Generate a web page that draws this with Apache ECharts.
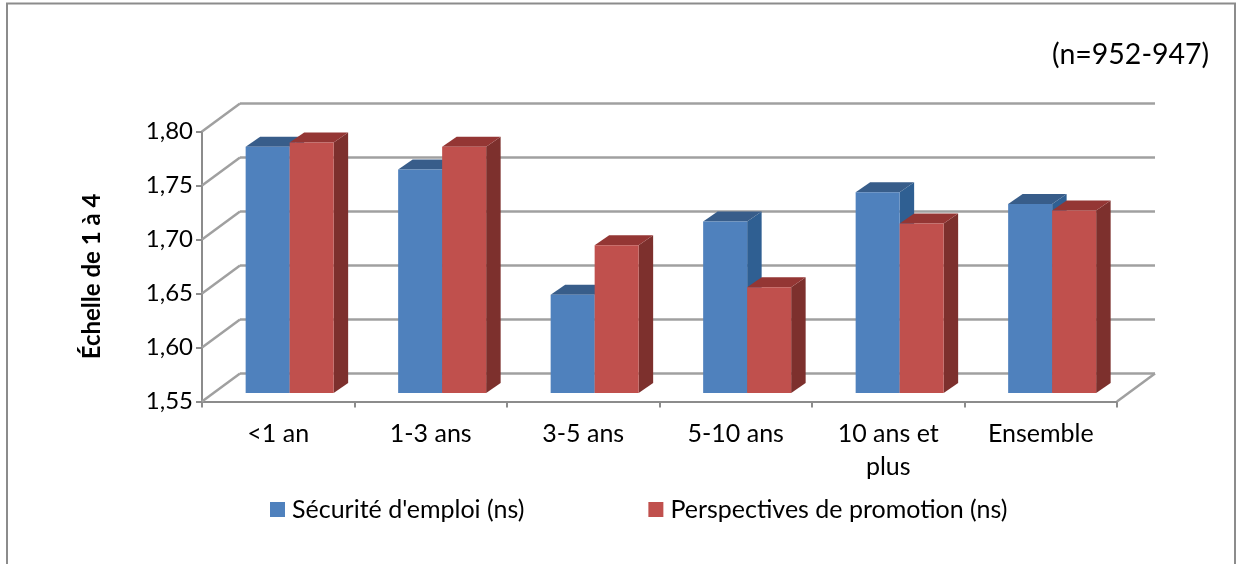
<!DOCTYPE html>
<html>
<head>
<meta charset="utf-8">
<style>
    html, body { margin: 0; padding: 0; background: #fff; }
    #chart { width: 1236px; height: 564px; }
</style>
<script src="https://cdn.jsdelivr.net/npm/echarts@6/dist/echarts.min.js"></script>
</head>
<body>
<div id="chart"></div>
<script type="text/javascript">
    var categories = ['<1 an', '1-3 ans', '3-5 ans', '5-10 ans', '10 ans et\nplus', 'Ensemble'];
    var securite = [1.778, 1.757, 1.641, 1.709, 1.736, 1.725];
    var promotion = [1.782, 1.778, 1.687, 1.648, 1.707, 1.719];
    var gridValues = [1.55, 1.60, 1.65, 1.70, 1.75, 1.80];

    var fontName = 'Lato';
    var axisMin = 1.55;
    //profondeur du mur du fond (effet 3D)
    var wallDx = 38, wallDy = -28;
    //position de la barre dans la profondeur
    var barDx = 11.4, barDy = -8.4, sideDx = 14.5, sideDy = -10;
    var barWidth = 44;

    function renderWall(params, api) {
        var cs = params.coordSys;
        var y = api.coord([0, api.value(0)])[1];
        var left = cs.x, right = cs.x + cs.width;
        var style = { stroke: '#a0a0a0', lineWidth: 2.5, fill: 'none' };
        var children = [
            { type: 'line', shape: { x1: left, y1: y, x2: left + wallDx, y2: y + wallDy }, style: style },
            { type: 'line', shape: { x1: left + wallDx, y1: y + wallDy, x2: right + wallDx, y2: y + wallDy }, style: style }
        ];
        if (api.value(0) === axisMin) {
            children.push({ type: 'line', shape: { x1: right, y1: y, x2: right + wallDx, y2: y + wallDy }, style: style });
        }
        return { type: 'group', children: children };
    }

    function barRenderer(offset, front, top, side) {
        return function (params, api) {
            var base = api.coord([api.value(0), axisMin]);
            var head = api.coord([api.value(0), api.value(1)]);
            var x0 = base[0] + barDx + offset * barWidth;
            var x1 = x0 + barWidth;
            var y0 = base[1] + barDy;
            var y1 = head[1] + barDy;
            return {
                type: 'group',
                children: [
                    { type: 'polygon', shape: { points: [[x1, y1], [x1 + sideDx, y1 + sideDy], [x1 + sideDx, y0 + sideDy], [x1, y0]] }, style: { fill: side } },
                    { type: 'polygon', shape: { points: [[x0, y1], [x0 + sideDx, y1 + sideDy], [x1 + sideDx, y1 + sideDy], [x1, y1]] }, style: { fill: top } },
                    { type: 'rect', shape: { x: x0, y: y1, width: barWidth, height: y0 - y1 }, style: { fill: front } }
                ]
            };
        };
    }

    var myChart = echarts.init(document.getElementById('chart'));
    var option = {
        animation: false,
        textStyle: { fontFamily: fontName },
        grid: { left: 202, right: 119, top: 131.5, bottom: 162.5 },
        legend: {
            data: ["Sécurité d'emploi (ns)", 'Perspectives de promotion (ns)'],
            left: 265, top: 492,
            itemWidth: 15, itemHeight: 15, itemGap: 124,
            icon: 'rect',
            textStyle: { fontSize: 25, color: '#000', fontFamily: fontName, padding: [0, 0, 0, 2] }
        },
        xAxis: {
            type: 'category',
            data: categories,
            axisLine: { lineStyle: { color: '#8c8c8c', width: 2 } },
            axisTick: { show: true, length: 6, lineStyle: { color: '#8c8c8c', width: 2 } },
            axisLabel: { fontSize: 25, color: '#000', margin: 16, lineHeight: 33, interval: 0, hideOverlap: false }
        },
        yAxis: {
            type: 'value',
            min: axisMin, max: 1.80, interval: 0.05,
            name: 'Échelle de 1 à 4',
            nameLocation: 'middle',
            nameGap: 98,
            nameTextStyle: { fontSize: 24, fontWeight: 'bold', color: '#000', padding: [0, 20, 0, 0] },
            splitLine: { show: false },
            axisLine: { show: true, lineStyle: { color: '#8c8c8c', width: 2 } },
            axisTick: { show: true, length: 6, lineStyle: { color: '#8c8c8c', width: 2 } },
            axisLabel: {
                fontSize: 24, color: '#000', margin: 9,
                formatter: function (v) { return v.toFixed(2).replace('.', ','); }
            }
        },
        graphic: [
            { type: 'polyline', silent: true, z: -1, shape: { points: [[7, 564], [7, 3.5], [1235, 3.5], [1235, 564]] }, style: { stroke: '#8c8c8c', lineWidth: 2, fill: 'none' } },
            { type: 'text', left: 1052, top: 40, style: { text: '(n=952-947)', fontSize: 28.5, fontFamily: fontName, fill: '#000' } }
        ],
        series: [
            {
                name: 'mur',
                type: 'custom',
                coordinateSystem: 'cartesian2d',
                silent: true,
                z: 1,
                clip: false,
                data: gridValues.map(function (v) { return [v]; }),
                renderItem: renderWall
            },
            {
                name: "Sécurité d'emploi (ns)",
                type: 'custom',
                z: 2,
                clip: false,
                itemStyle: { color: '#4f81bd' },
                encode: { x: 0, y: 1 },
                data: categories.map(function (c, i) { return [i, securite[i]]; }),
                renderItem: barRenderer(-1, '#4f81bd', '#385d8a', '#2f5f92')
            },
            {
                name: 'Perspectives de promotion (ns)',
                type: 'custom',
                z: 3,
                clip: false,
                itemStyle: { color: '#c0504d' },
                encode: { x: 0, y: 1 },
                data: categories.map(function (c, i) { return [i, promotion[i]]; }),
                renderItem: barRenderer(0, '#c0504d', '#943634', '#7d302d')
            }
        ]
    };
    myChart.setOption(option, true);
</script>
</body>
</html>
